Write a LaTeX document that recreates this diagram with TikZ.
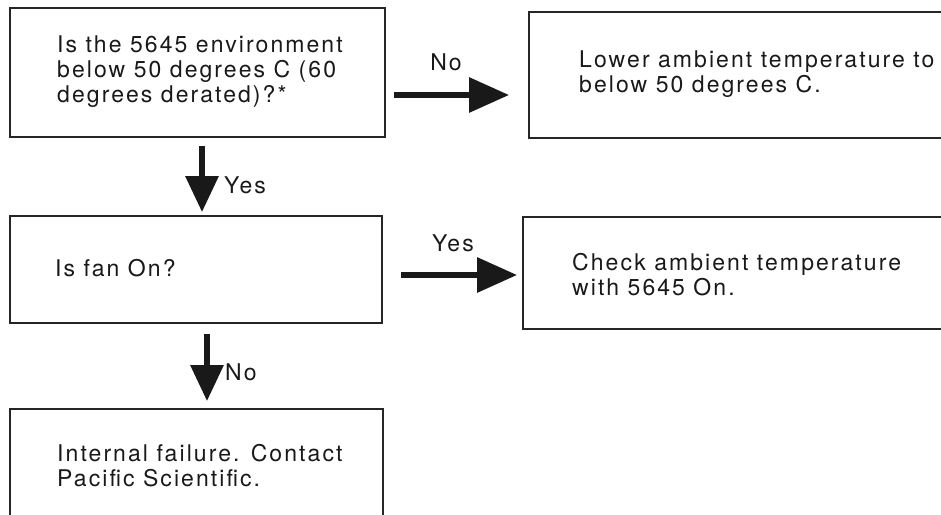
\documentclass[tikz,border=0pt]{standalone}
\usepackage{fontspec}
\setmainfont{TeX Gyre Heros}[LetterSpace=9]
\usetikzlibrary{arrows.meta}
\begin{document}
\begin{tikzpicture}[x=1pt,y=-1pt,
  box/.style={draw=black!85, line width=1.8pt, rectangle, inner sep=0pt},
  txt/.style={align=left, inner sep=0pt, text=black!90, font=\fontsize{23}{25}\selectfont},
  lbl/.style={inner sep=0pt, text=black!90, font=\fontsize{23}{25}\selectfont},
  harr/.style={line width=6pt, black!90, -{Triangle[length=40pt,width=34pt]}},
  varr/.style={line width=6pt, black!90, -{Triangle[length=36pt,width=32pt]}}
]
\useasboundingbox (0,0) rectangle (941,514);
\clip (0,0) rectangle (941,514);
% boxes
\node[box, minimum width=375, minimum height=129] (q1) at (197.5,72.5) {};
\node[box, minimum width=440, minimum height=126] (a1) at (749,75) {};
\node[box, minimum width=372, minimum height=107] (q2) at (196,269.5) {};
\node[box, minimum width=440, minimum height=112] (a2) at (743,273) {};
\node[box, minimum width=373, minimum height=130] (a3) at (196.5,474) {};
% texts
\node[txt, anchor=west] (q1t) at (57,72) {Is the 5645 environment\\below 50 degrees C (60\\degrees derated)?*};
\node[txt, anchor=west] (a1t) at (579,74.5) {Lower ambient temperature to\\below 50 degrees C.};
\node[txt, anchor=west] (q2t) at (55,268) {Is fan On?};
\node[txt, anchor=west] (a2t) at (572,275) {Check ambient temperature\\with 5645 On.};
\node[txt, anchor=west] (a3t) at (57,465.5) {Internal failure.\ \hspace{0.12em}Contact\\Pacific Scientific.};
% connectors
\coordinate (h1) at (0,95);
\coordinate (h2) at (0,275);
\draw[harr, shorten <=8pt, shorten >=19pt] (q1.east |- h1) -- (a1.west |- h1);
\node[lbl] (l1) at (446,62) {No};
\draw[varr, shorten <=8pt, shorten >=3pt] ([xshift=4.5pt]q1.south) -- ([xshift=6pt]q2.north);
\node[lbl, anchor=west] (l2) at (224,185) {Yes};
\draw[harr, shorten <=18pt, shorten >=5pt] (q2.east |- h2) -- (a2.west |- h2);
\node[lbl] (l3) at (453,243) {Yes};
\draw[varr, shorten <=10pt, shorten >=7pt] ([xshift=11pt]q2.south) -- ([xshift=10.5pt]a3.north);
\node[lbl, anchor=west] (l4) at (225,372) {No};
\end{tikzpicture}
\end{document}
